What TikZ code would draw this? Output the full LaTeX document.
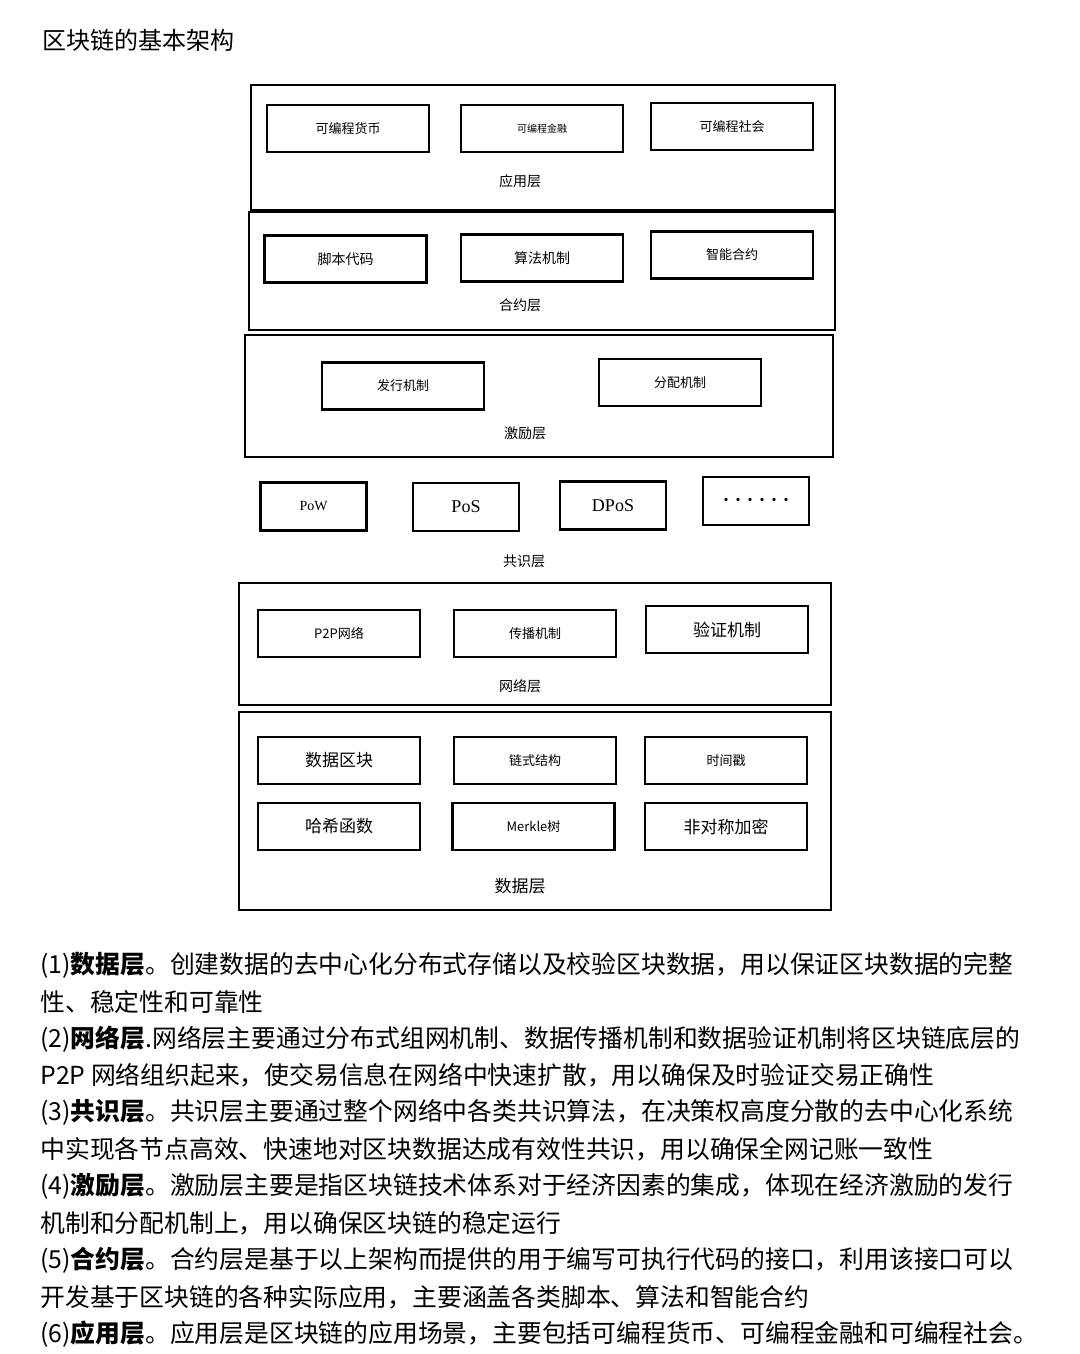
\documentclass[tikz,border=0pt]{standalone}
\usepackage{fontspec}
\setmainfont{Noto Sans CJK SC}
\newfontfamily\latinserif{Liberation Serif}
\usetikzlibrary{positioning}
\tikzset{
    layer/.style = {draw, rectangle, line width=1.2pt, inner sep=0pt},
    cell/.style = {draw, rectangle, line width=1.2pt,
        minimum width=81pt,
        minimum height=23.5pt, font=\fontsize{6.5}{8}\selectfont},
    algo/.style = {cell, minimum width=53pt, minimum height=24pt,
        font=\latinserif\fontsize{8}{9}\selectfont},
    biglabel/.style = {font=\fontsize{8.5}{10}\selectfont},
    layerlabel/.style = {font=\fontsize{7}{8}\selectfont},
    para/.style = {anchor=west, inner sep=0pt, font=\fontsize{12.4}{14}\selectfont}
}

\begin{document}
\begin{tikzpicture}[x=0.5pt, y=-0.5pt]
    \useasboundingbox (0,0) rectangle (1080,1354);
    \fill[white] (0,0) rectangle (1080,1354);

    \node[anchor=west, inner sep=0pt, font=\fontsize{12}{14}\selectfont] (title) at (42,40) {区块链的基本架构};

    % application layer
    \node[layer, minimum width=292pt, minimum height=62.5pt] (app) at (543,147.5) {};
    \node[cell] (money) at (348,128.5) {可编程货币};
    \node[cell, font=\fontsize{5}{6}\selectfont] (finance) at (542,128.5) {可编程金融};
    \node[cell] (society) at (732,126.5) {可编程社会};
    \node[layerlabel] (applbl) at (520,181) {应用层};

    % contract layer
    \node[layer, minimum width=293pt, minimum height=59pt] (contract) at (542,271) {};
    \node[cell, font=\fontsize{7}{8}\selectfont] (script) at (345.5,259) {脚本代码};
    \node[cell, font=\fontsize{7}{8}\selectfont] (algorithm) at (542,258) {算法机制};
    \node[cell] (smart) at (732,255) {智能合约};
    \node[layerlabel] (contractlbl) at (520,305) {合约层};

    % incentive layer
    \node[layer, minimum width=294pt, minimum height=61pt] (incentive) at (539,396) {};
    \node[cell] (issue) at (403,386) {发行机制};
    \node[cell] (allot) at (680,382.5) {分配机制};
    \node[layerlabel] (incentivelbl) at (525,433) {激励层};

    % consensus layer
    \node[algo, font=\latinserif\fontsize{7}{8}\selectfont] (pow) at (313.5,506.5) {PoW};
    \node[algo, font=\latinserif\fontsize{9}{10}\selectfont] (pos) at (466,507) {PoS};
    \node[algo, font=\latinserif\fontsize{9}{10}\selectfont] (dpos) at (613,505.5) {DPoS};
    \node[algo, font=\bfseries\fontsize{6}{7}\selectfont] (more) at (756,501) {••••••};
    \node[layerlabel] (consensuslbl) at (524,561) {共识层};

    % network layer
    \node[layer, minimum width=296pt, minimum height=61pt] (network) at (535,644) {};
    \node[cell] (p2p) at (339,633.5) {P2P网络};
    \node[cell] (spread) at (535,633.5) {传播机制};
    \node[cell, biglabel] (verify) at (727,629.5) {验证机制};
    \node[layerlabel] (networklbl) at (520,686) {网络层};

    % data layer
    \node[layer, minimum width=296pt, minimum height=99pt] (data) at (535,811) {};
    \node[cell, biglabel] (block) at (339,760.5) {数据区块};
    \node[cell] (chain) at (535,760.5) {链式结构};
    \node[cell] (stamp) at (726,760.5) {时间戳};
    \node[cell, biglabel] (hash) at (339,826.5) {哈希函数};
    \node[cell] (merkle) at (533.5,826.5) {Merkle树};
    \node[cell, biglabel] (asym) at (726,826.5) {非对称加密};
    \node[biglabel] (datalbl) at (520,886) {数据层};

    % description
    \foreach \line [count=\i] in {
        {(1)\textbf{数据层}。创建数据的去中心化分布式存储以及校验区块数据，用以保证区块数据的完整},
        {性、稳定性和可靠性},
        {(2)\textbf{网络层}.网络层主要通过分布式组网机制、数据传播机制和数据验证机制将区块链底层的},
        {P2P 网络组织起来，使交易信息在网络中快速扩散，用以确保及时验证交易正确性},
        {(3)\textbf{共识层}。共识层主要通过整个网络中各类共识算法，在决策权高度分散的去中心化系统},
        {中实现各节点高效、快速地对区块数据达成有效性共识，用以确保全网记账一致性},
        {(4)\textbf{激励层}。激励层主要是指区块链技术体系对于经济因素的集成，体现在经济激励的发行},
        {机制和分配机制上，用以确保区块链的稳定运行},
        {(5)\textbf{合约层}。合约层是基于以上架构而提供的用于编写可执行代码的接口，利用该接口可以},
        {开发基于区块链的各种实际应用，主要涵盖各类脚本、算法和智能合约},
        {(6)\textbf{应用层}。应用层是区块链的应用场景，主要包括可编程货币、可编程金融和可编程社会。}}
        \node[para] (line\i) at (40,{965+(\i-1)*36.9}) {\line};
\end{tikzpicture}
\end{document}
